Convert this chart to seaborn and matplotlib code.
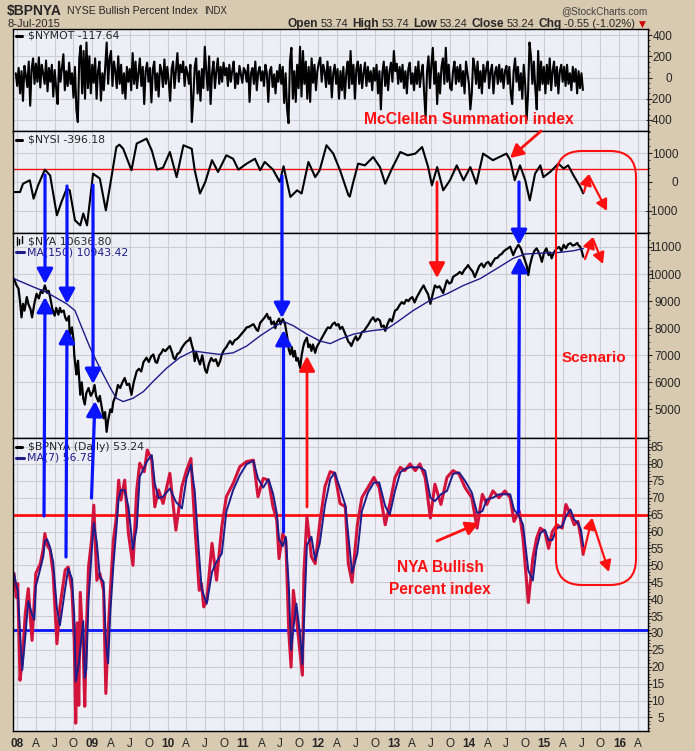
import numpy as np
import pandas as pd
import matplotlib
matplotlib.use("Agg")
import matplotlib.pyplot as plt
from matplotlib.patches import FancyBboxPatch, FancyArrowPatch, ArrowStyle
from matplotlib.lines import Line2D
from matplotlib.ticker import MultipleLocator
import seaborn as sns

sns.set_style("white")
plt.rcParams['font.family'] = ['Liberation Sans', 'DejaVu Sans']

# ---------------------------------------------------------------- data
# NYMOT (weekly readings, ending 8-Jul-2015)
NYMOT_VALUES = [
    40, -80, 90,
    -150, 60, -220, 110, 20, -90, 150, -266, 80, 180, -60, 130, -40,
    190, -94, 120, 40, -60, 160, -130, 90, -40, 120, -180, 70, -100,
    -250, 150, -40, 90, 219, -120, 60, -80, 140, -60, 40, -190, 100,
    -300, -420, 180, 300, -150, 250, -200, 330, -100, 200, -150, 120, -50,
    180, -200, 60, 150, -218, 40, -120, 100, 330, -60, 180, 250, -80,
    150, 60, -100, 200, -60, 120, -150, 40, -200, 100, -40, 80, -120,
    230, -60, 150, -100, 40, 180, -80, 100, -250, 60, 140, -40, 90,
    -235, 80, 150, -120, 40, -180, 120, 60, -90, 170, -60, 100, -40,
    -220, 80, 150, -100, 60, 230, -40, 120, 50, 150, -80, 100, 40,
    -60, 120, -420, -200, 100, 180, -150, 60, -220, 80, -100, 290, 60,
    -120, 200, -250, 40, 150, -100, 60, 180, -60, 100, -40, 140, 20,
    90, -80, 120, -40, 60, 150, -100, 40, -60, 110, 30, -50, 90,
    60, -40, 120, -230, 40, 90, -60, 150, -120, 50, 100, -30, 60,
    -80, 120, 40, -230, 60, 100, -90, 30, -150, 60, -40, 120, -60,
    100, -240, 40, -300, -430, 150, 280, -200, 60, -230, 120, -100, 290,
    -180, 250, -60, 150, -200, 100, -230, 180, -50, 120, -120, 60, 140,
    187, -40, 120, 60, -90, 150, -60, 100, -188, 40, 120, -60, 80,
    -200, 60, -120, 100, -197, 40, 150, -100, 250, -60, 120, -200, 80,
    150, -60, 120, -100, 40, 140, -80, 100, -40, 60, -120, 90, -30,
    120, -150, 60, -300, 40, 150, -80, 100, -120, 60, 140, -40, 250,
    60, 130, -60, 100, -40, 120, -100, 60, -150, 80, 140, -60, 40,
    -120, 100, -60, 150, -90, 40, 120, -150, -380, 60, 200, -100, 120,
    280, -60, 150, -250, 40, -150, 100, 180, -60, 280, -40, 120, -100,
    -120, 60, 150, -60, 100, -40, 120, -80, 60, -150, 150, 40, -60,
    -300, -150, 180, 100, -60, 150, -100, 60, -150, 120, -40, 80, 150,
    -100, 60, 120, -150, 40, 100, -60, 120, -40, 80, -100, 60, 110,
    -60, 100, -150, -250, 60, 180, -40, 100, -120, 40, -200, 120, -60,
    -400, -150, 330, 200, -60, 150, -100, -300, 250, -120, 150, -60, 100,
    -150, 120, -60, 180, -120, 60, 150, -80, 100, -150, 60, 120, -40,
    100, -80, 120, -60, 40, -120, 100, -40, 80, -150, 60, -100, 40,
    -117.64,
]

# NYSI (time as decimal year, value)
NYSI_T = [2007.96, 2008.04, 2008.08, 2008.17, 2008.22, 2008.28, 2008.37, 2008.44, 2008.53, 2008.59,
          2008.66, 2008.70, 2008.77, 2008.84, 2008.88, 2008.93, 2009.01, 2009.10, 2009.18, 2009.24,
          2009.32, 2009.36, 2009.41, 2009.52, 2009.59, 2009.72, 2009.79, 2009.86, 2009.94, 2010.03,
          2010.12, 2010.21, 2010.32, 2010.36, 2010.43, 2010.50, 2010.59, 2010.67, 2010.78, 2010.87,
          2010.94, 2011.05, 2011.16, 2011.23, 2011.29, 2011.40, 2011.49, 2011.54, 2011.63, 2011.72,
          2011.78, 2011.87, 2011.96, 2012.02, 2012.11, 2012.20, 2012.29, 2012.40, 2012.42, 2012.46,
          2012.53, 2012.62, 2012.73, 2012.82, 2012.89, 2012.98, 2013.09, 2013.19, 2013.29, 2013.38,
          2013.46, 2013.51, 2013.58, 2013.66, 2013.75, 2013.84, 2013.93, 2014.02, 2014.10, 2014.19,
          2014.32, 2014.50, 2014.55, 2014.61, 2014.68, 2014.75, 2014.81, 2014.88, 2014.95, 2014.99,
          2015.08, 2015.19, 2015.26, 2015.32, 2015.39, 2015.48, 2015.52]
NYSI_V = [-350, -350, -60, 60, -580, -115, 430, 230, -1160, -700,
          -230, -290, -1335, -1510, -1100, -1510, 290, 120, -990, -60,
          1220, 1300, 1160, 410, 1340, 1510, 1100, 430, 500, 1045,
          170, 1280, 1160, 410, -400, 0, 760, 350, 930, 810,
          430, 640, 810, 410, 700, 430, 0, 550, -520, -290,
          -400, 700, 170, 410, 1280, 990, 410, -450, -510, -60,
          640, 580, 870, 520, -60, 470, 1045, 930, 990, 1220,
          520, -115, 520, -290, 60, 580, 60, 520, -60, 990,
          760, 990, 760, 60, 580, 60, -640, 290, 580, 170,
          350, 640, 470, 580, 230, -170, -396.18]

# NYA close
NYA_T = [2007.96, 2007.99, 2008.02, 2008.04, 2008.06, 2008.08, 2008.10, 2008.13, 2008.15, 2008.18,
         2008.20, 2008.23, 2008.26, 2008.29, 2008.32, 2008.34, 2008.37, 2008.40, 2008.42, 2008.44,
         2008.47, 2008.50, 2008.52, 2008.55, 2008.57, 2008.59, 2008.62, 2008.64, 2008.66, 2008.69,
         2008.70, 2008.73, 2008.75, 2008.76, 2008.78, 2008.79, 2008.81, 2008.82, 2008.84, 2008.86,
         2008.88, 2008.90, 2008.92, 2008.95, 2008.98, 2009.01, 2009.03, 2009.05, 2009.08, 2009.10,
         2009.13, 2009.15, 2009.17, 2009.19, 2009.21, 2009.24, 2009.26, 2009.28, 2009.31, 2009.34,
         2009.37, 2009.40, 2009.43, 2009.46, 2009.49, 2009.52, 2009.55, 2009.57, 2009.59, 2009.62,
         2009.65, 2009.68, 2009.72, 2009.75, 2009.78, 2009.81, 2009.84, 2009.86, 2009.89, 2009.92,
         2009.94, 2009.97, 2010.00, 2010.03, 2010.06, 2010.08, 2010.10, 2010.13, 2010.16, 2010.19,
         2010.22, 2010.25, 2010.28, 2010.30, 2010.32, 2010.34, 2010.36, 2010.38, 2010.40, 2010.43,
         2010.46, 2010.48, 2010.50, 2010.52, 2010.55, 2010.58, 2010.61, 2010.64, 2010.67, 2010.70,
         2010.72, 2010.75, 2010.78, 2010.81, 2010.83, 2010.86, 2010.89, 2010.92, 2010.94, 2010.97,
         2011.00, 2011.03, 2011.05, 2011.08, 2011.11, 2011.14, 2011.16, 2011.18, 2011.20, 2011.23,
         2011.26, 2011.29, 2011.32, 2011.34, 2011.36, 2011.38, 2011.41, 2011.43, 2011.45, 2011.48,
         2011.50, 2011.53, 2011.56, 2011.59, 2011.61, 2011.63, 2011.65, 2011.67, 2011.69, 2011.71,
         2011.73, 2011.76, 2011.78, 2011.80, 2011.82, 2011.85, 2011.87, 2011.89, 2011.91, 2011.93,
         2011.96, 2011.98, 2012.01, 2012.03, 2012.05, 2012.08, 2012.11, 2012.13, 2012.16, 2012.19,
         2012.22, 2012.24, 2012.27, 2012.29, 2012.32, 2012.35, 2012.38, 2012.40, 2012.42, 2012.44,
         2012.47, 2012.50, 2012.52, 2012.55, 2012.58, 2012.61, 2012.64, 2012.67, 2012.70, 2012.73,
         2012.76, 2012.79, 2012.82, 2012.84, 2012.87, 2012.89, 2012.92, 2012.95, 2012.98, 2013.02,
         2013.05, 2013.08, 2013.11, 2013.14, 2013.17, 2013.20, 2013.22, 2013.25, 2013.28, 2013.31,
         2013.34, 2013.37, 2013.40, 2013.43, 2013.46, 2013.49, 2013.52, 2013.55, 2013.58, 2013.61,
         2013.64, 2013.66, 2013.69, 2013.71, 2013.74, 2013.77, 2013.79, 2013.82, 2013.85, 2013.88,
         2013.91, 2013.94, 2013.97, 2013.99, 2014.02, 2014.05, 2014.08, 2014.11, 2014.14, 2014.17,
         2014.20, 2014.23, 2014.26, 2014.29, 2014.32, 2014.35, 2014.38, 2014.41, 2014.44, 2014.46,
         2014.49, 2014.52, 2014.55, 2014.57, 2014.59, 2014.62, 2014.64, 2014.66, 2014.69, 2014.72,
         2014.74, 2014.77, 2014.79, 2014.81, 2014.84, 2014.87, 2014.90, 2014.92, 2014.95, 2014.97,
         2015.00, 2015.03, 2015.06, 2015.08, 2015.10, 2015.13, 2015.17, 2015.20, 2015.23, 2015.26,
         2015.29, 2015.32, 2015.35, 2015.38, 2015.41, 2015.44, 2015.46, 2015.48, 2015.50, 2015.52]
NYA_V = [9830, 9600, 9460, 9000, 8400, 8900, 8650, 9150, 8900, 8700,
         8400, 8900, 9270, 9100, 9400, 9300, 9580, 9300, 9380, 9150,
         8700, 8460, 8750, 8500, 8750, 8590, 8650, 8400, 8280, 8450,
         7700, 8030, 7600, 7030, 6500, 6290, 6800, 6400, 5540, 6000,
         5400, 5180, 5600, 5790, 5500, 5660, 5900, 5500, 5290, 5500,
         5000, 4670, 4900, 4170, 4600, 5000, 4900, 5290, 5500, 5900,
         5790, 6000, 6160, 5900, 5950, 5540, 6000, 6200, 6410, 6500,
         6400, 6750, 6910, 6750, 6950, 7030, 6750, 6720, 7000, 7100,
         7220, 7150, 7250, 7340, 7100, 6900, 6850, 7050, 7100, 7280,
         7400, 7500, 7550, 7650, 7400, 7200, 6780, 7100, 6900, 6660,
         7000, 6700, 6450, 6350, 6700, 6900, 6780, 6850, 6600, 6800,
         7030, 7200, 7300, 7450, 7530, 7400, 7550, 7600, 7650, 7750,
         7850, 7950, 8030, 8050, 8100, 8150, 8050, 7950, 7900, 8200,
         8300, 8400, 8530, 8350, 8400, 8150, 8250, 8000, 8210, 8350,
         8150, 8340, 8150, 7650, 7200, 7030, 7300, 6950, 7160, 6800,
         6900, 6530, 7000, 7300, 7500, 7650, 7300, 7400, 7160, 7400,
         7090, 7300, 7450, 7550, 7650, 7800, 7950, 8030, 8000, 8150,
         8210, 8100, 8150, 7970, 8050, 7850, 7650, 7500, 7450, 7340,
         7550, 7700, 7550, 7650, 7850, 7900, 8030, 8150, 8300, 8400,
         8250, 8350, 8280, 8050, 8100, 7900, 8150, 8340, 8250, 8650,
         8700, 8850, 8960, 8900, 9050, 9000, 9090, 9150, 8950, 9150,
         9300, 9450, 9580, 9400, 9250, 8900, 9250, 9580, 9500, 9550,
         9400, 9300, 9600, 9770, 9650, 9700, 9890, 9950, 10000, 10080,
         10000, 10150, 10250, 10330, 10200, 10100, 9890, 10100, 10300, 10390,
         10250, 10400, 10450, 10300, 10450, 10580, 10600, 10700, 10750, 10830,
         10900, 10950, 11010, 10850, 10700, 10900, 11000, 11080, 10950, 10700,
         10550, 10300, 9960, 10300, 10640, 10850, 10950, 10850, 10650, 10450,
         10800, 10950, 10700, 10800, 10580, 10800, 10950, 11000, 10850, 11080,
         10950, 11100, 11140, 11050, 11080, 11150, 11050, 11010, 10850, 10636.80]

# NYA 150-day moving average
NYA_MA_T = [2007.96, 2008.22, 2008.39, 2008.66, 2008.77, 2008.86, 2008.97, 2009.10, 2009.24, 2009.32,
            2009.41, 2009.54, 2009.68, 2009.81, 2009.99, 2010.16, 2010.34, 2010.52, 2010.70, 2010.87,
            2011.05, 2011.23, 2011.40, 2011.54, 2011.67, 2011.85, 2012.02, 2012.16, 2012.29, 2012.47,
            2012.69, 2012.91, 2013.04, 2013.26, 2013.48, 2013.71, 2013.93, 2014.15, 2014.37, 2014.59,
            2014.75, 2014.95, 2015.17, 2015.39, 2015.52]
NYA_MA_V = [9830, 9520, 9330, 8900, 8650, 8030, 7280, 6530, 5790, 5410,
            5290, 5410, 5660, 6040, 6530, 6910, 7160, 7090, 7030, 7090,
            7340, 7720, 8030, 8250, 8090, 7780, 7530, 7430, 7600, 7780,
            7900, 7970, 8210, 8650, 9020, 9270, 9580, 9830, 10200, 10580,
            10740, 10770, 10790, 10860, 10943.42]

# BPNYA
BP_T = [2007.96, 2007.99, 2008.01, 2008.04, 2008.07, 2008.11, 2008.15, 2008.20, 2008.23, 2008.25,
        2008.31, 2008.35, 2008.37, 2008.40, 2008.44, 2008.48, 2008.53, 2008.57, 2008.64, 2008.68,
        2008.73, 2008.76, 2008.78, 2008.80, 2008.82, 2008.84, 2008.88, 2008.90, 2008.92, 2008.95,
        2008.99, 2009.02, 2009.06, 2009.10, 2009.15, 2009.18, 2009.21, 2009.24, 2009.28, 2009.32,
        2009.35, 2009.38, 2009.43, 2009.48, 2009.54, 2009.59, 2009.63, 2009.69, 2009.73, 2009.79,
        2009.83, 2009.88, 2009.94, 2010.03, 2010.11, 2010.19, 2010.25, 2010.31, 2010.36, 2010.42,
        2010.45, 2010.48, 2010.52, 2010.59, 2010.65, 2010.72, 2010.78, 2010.87, 2010.96, 2011.05,
        2011.14, 2011.20, 2011.27, 2011.34, 2011.40, 2011.45, 2011.48, 2011.53, 2011.57, 2011.61,
        2011.64, 2011.67, 2011.71, 2011.76, 2011.79, 2011.81, 2011.85, 2011.91, 2011.96, 2012.02,
        2012.09, 2012.16, 2012.22, 2012.29, 2012.36, 2012.40, 2012.45, 2012.52, 2012.58, 2012.66,
        2012.74, 2012.81, 2012.89, 2012.95, 2013.02, 2013.09, 2013.15, 2013.22, 2013.29, 2013.35,
        2013.42, 2013.49, 2013.55, 2013.63, 2013.71, 2013.79, 2013.87, 2013.95, 2014.04, 2014.11,
        2014.18, 2014.24, 2014.32, 2014.40, 2014.48, 2014.55, 2014.60, 2014.67, 2014.72, 2014.79,
        2014.85, 2014.90, 2014.95, 2015.01, 2015.06, 2015.11, 2015.17, 2015.24, 2015.29, 2015.35,
        2015.40, 2015.45, 2015.49, 2015.52]
BP_V = [47.6, 40.6, 44.6, 16.0, 22.0, 35.7, 43.1, 27.8, 40.0, 47.6,
        50.5, 55.0, 59.4, 56.0, 54.5, 47.6, 26.8, 37.7, 48.6, 49.5,
        42.6, 28.0, 3.3, 33.0, 8.6, 42.0, 25.0, 8.3, 30.0, 49.5,
        57.4, 67.8, 45.6, 47.6, 42.6, 12.1, 30.0, 42.6, 57.4, 64.4,
        75.2, 69.3, 75.2, 59.4, 50.0, 72.3, 80.2, 77.7, 84.1, 81.1,
        67.3, 72.3, 68.3, 77.2, 60.4, 73.3, 78.0, 81.6, 62.4, 42.6,
        44.6, 37.7, 39.6, 56.5, 45.6, 61.4, 70.3, 74.2, 79.2, 80.7,
        81.1, 70.3, 75.7, 75.2, 67.3, 63.4, 52.0, 59.4, 57.4, 30.0,
        19.9, 42.6, 34.7, 24.0, 17.5, 47.6, 64.4, 52.5, 50.5, 62.4,
        73.3, 77.7, 77.2, 68.3, 67.3, 50.5, 45.0, 62.0, 70.0, 73.0,
        76.0, 73.0, 62.0, 68.0, 76.0, 79.0, 78.0, 80.0, 78.0, 80.0,
        76.0, 64.0, 74.0, 68.0, 76.0, 78.0, 77.0, 73.0, 70.0, 61.0,
        71.0, 68.0, 72.0, 70.0, 72.0, 70.0, 63.0, 66.0, 58.0, 39.0,
        52.0, 58.0, 61.0, 60.0, 55.0, 60.0, 62.0, 61.0, 68.0, 65.0,
        62.0, 63.0, 58.0, 53.24]

# reference levels
NYSI_LEVEL = 450
BP_UPPER = 65
BP_LOWER = 31

# axis ticks
NYMOT_TICKS = [-400, -200, 0, 200, 400]
NYSI_TICKS = [-1000, 0, 1000]
NYA_TICKS = [5000, 6000, 7000, 8000, 9000, 10000, 11000]
BP_TICKS = list(range(5, 90, 5))
MONTH_LETTERS = {1: None, 4: 'A', 7: 'J', 10: 'O'}

# ---------------------------------------------------------------- helpers
W, H = 695, 751
BG = '#d8cab0'
PANEL = '#eeeef7'
GRID = '#cdcdd3'
RED = '#ff1010'
BLUE = '#0a14ff'
NAVY = '#1c1c8a'


def yr2date(a):
    a = np.asarray(a, float)
    return pd.to_datetime('2008-01-01') + pd.to_timedelta((a - 2008.0) * 365.25, unit='D')


nymot = pd.DataFrame({'date': pd.date_range(end='2015-07-08', periods=len(NYMOT_VALUES), freq='7D'),
                      'v': NYMOT_VALUES})
nysi = pd.DataFrame({'date': yr2date(NYSI_T), 'v': NYSI_V})
nya = pd.DataFrame({'date': yr2date(NYA_T), 'v': NYA_V})
nya_ma = pd.DataFrame({'date': yr2date(NYA_MA_T), 'v': NYA_MA_V})
bp = pd.DataFrame({'date': yr2date(BP_T), 'v': BP_V})
bp['ma'] = bp['v'].rolling(2, min_periods=1).mean()

fig = plt.figure(figsize=(W / 100, H / 100), dpi=100, facecolor=BG)
T = fig.dpi_scale_trans


def P(x, y):
    return (x / 100.0, (H - y) / 100.0)


XL, XR = 13, 648
xlim = yr2date([2008 + (XL - 17) / 75.3, 2008 + (XR - 17) / 75.3])
qticks = pd.date_range('2008-01-01', '2016-04-01', freq='QS')
qlabels = []
for d in qticks:
    qlabels.append(f"{d.year % 100:02d}" if d.month == 1 else MONTH_LETTERS[d.month])


def panel(top, bottom, ylim, yticks, minor, pad):
    ax = fig.add_axes([XL / W, 1 - bottom / H, (XR - XL) / W, (bottom - top) / H])
    ax.set_facecolor(PANEL)
    ax.set_xlim(xlim)
    ax.set_ylim(ylim)
    ax.set_xticks(qticks)
    ax.set_yticks(yticks)
    ax.yaxis.set_minor_locator(MultipleLocator(minor))
    ax.yaxis.tick_right()
    ax.tick_params(axis='y', which='major', labelsize=8.5, length=3, width=0.8,
                   direction='out', pad=pad, right=True, left=False)
    ax.tick_params(axis='y', which='minor', length=1.5, width=0.6, right=True, left=False)
    for lab in ax.get_yticklabels():
        lab.set_horizontalalignment('right')
    ax.tick_params(axis='x', labelbottom=False, length=0)
    ax.grid(True, which='major', color=GRID, lw=0.8)
    ax.set_axisbelow(True)
    for s in ax.spines.values():
        s.set_color('black')
        s.set_linewidth(1.0)
    return ax


ax1 = panel(29, 131, (-504, 457), NYMOT_TICKS, 50, 14.5)
ax2 = panel(131, 233, (-1777, 1777), NYSI_TICKS, 250, 18.7)
ax3 = panel(233, 438, (3943, 11517), NYA_TICKS, 250, 20.8)
ax4 = panel(438, 731, (1.0, 87.66), BP_TICKS, 1, 8.6)

sns.lineplot(data=nymot, x='date', y='v', ax=ax1, color='black', lw=1.5, estimator=None, sort=False)
sns.lineplot(data=nysi, x='date', y='v', ax=ax2, color='black', lw=1.5, estimator=None, sort=False)
ax2.axhline(NYSI_LEVEL, color=RED, lw=1.0, zorder=1.5)
sns.lineplot(data=nya, x='date', y='v', ax=ax3, color='black', lw=1.6, estimator=None, sort=False)
sns.lineplot(data=nya_ma, x='date', y='v', ax=ax3, color=NAVY, lw=1.0, estimator=None, sort=False)
sns.lineplot(data=bp, x='date', y='v', ax=ax4, color='#d2143c', lw=2.2, estimator=None, sort=False)
sns.lineplot(data=bp, x='date', y='ma', ax=ax4, color=NAVY, lw=1.4, estimator=None, sort=False)
ax4.axhline(BP_UPPER, color=RED, lw=2.0, zorder=1.5)
ax4.axhline(BP_LOWER, color=BLUE, lw=2.0, zorder=1.5)

for ax in (ax1, ax2, ax3, ax4):
    ax.set_xlabel('')
    ax.set_ylabel('')

ax4.tick_params(axis='x', labelbottom=True, length=3, width=0.8, direction='out', pad=2, labelsize=8.5)
ax4.set_xticklabels(qlabels)
for lab, d in zip(ax4.get_xticklabels(), qticks):
    if d.month == 1:
        lab.set_fontweight('bold')

# ---------------------------------------------------------------- panel captions
LBL = dict(family='DejaVu Sans', fontsize=7.8, va='center', transform=T)


def marker(x0, x1, y, color, lw=2.2):
    fig.add_artist(Line2D([x0 / 100, x1 / 100], [(H - y) / 100] * 2, transform=T, color=color, lw=lw))


marker(16, 22, 36, 'black')
fig.text(*P(28, 36), '$NYMOT -117.64', **LBL)
marker(16, 22, 140, 'black')
fig.text(*P(28, 140), '$NYSI -396.18', **LBL)
# small bar icon for $NYA
for xi, (ya, yb) in zip([16.5, 19.0, 21.5], [(237, 245), (239, 244), (236, 243)]):
    fig.add_artist(Line2D([xi / 100] * 2, [(H - ya) / 100, (H - yb) / 100], transform=T, color='black', lw=1.0))
fig.text(*P(28, 241), '$NYA 10636.80', **LBL)
marker(16, 24, 252.5, NAVY)
fig.text(*P(27, 252.5), 'MA(150) 10943.42', color=NAVY, **LBL)
marker(16, 22, 446.5, 'black')
fig.text(*P(28, 446.5), '$BPNYA (Daily) 53.24', **LBL)
marker(16, 24, 458, NAVY)
fig.text(*P(27, 458), 'MA(7) 56.78', color=NAVY, **LBL)

# ---------------------------------------------------------------- header
fig.text(*P(7, 11), '$BPNYA', fontsize=10, fontweight='bold', va='center', transform=T)
fig.text(*P(67, 11.5), 'NYSE Bullish Percent Index', fontsize=7.6, va='center', transform=T)
fig.text(*P(204, 11.5), 'INDX', fontsize=6.9, va='center', transform=T)
fig.text(*P(648, 11), '@StockCharts.com', fontsize=7.2, color='#444444',
         ha='right', va='center', transform=T)
fig.text(*P(8, 24), '8-Jul-2015', fontsize=8, va='center', transform=T)

renderer = fig.canvas.get_renderer()
pieces = [('Open', True, 2.5), ('53.74', False, 4), ('High', True, 2.5), ('53.74', False, 4),
          ('Low', True, 2.5), ('53.24', False, 4), ('Close', True, 2.5), ('53.24', False, 4),
          ('Chg', True, 2.5), ('-0.55 (-1.02%)', False, 2)]
xcur = 637
fig.text(*P(646, 24), '\u25bc', family='DejaVu Sans', fontsize=6.5, color='#cc0000',
         ha='right', va='center', transform=T)
for txt, bold, gap in reversed(pieces):
    xcur -= gap
    t = fig.text(*P(xcur, 24), txt, fontsize=8.6 if bold else 8.0,
                 fontweight='bold' if bold else 'normal', ha='right', va='center', transform=T)
    xcur -= t.get_window_extent(renderer=renderer).width

# ---------------------------------------------------------------- annotations
def arrow(p0, p1, color, lw, head=True, ms=15):
    style = ArrowStyle('-|>', head_length=0.6, head_width=0.32) if head else ArrowStyle('-')
    a = FancyArrowPatch(P(*p0), P(*p1), transform=T, arrowstyle=style, mutation_scale=ms,
                        color=color, lw=lw, shrinkA=0, shrinkB=0, zorder=5)
    fig.add_artist(a)


BLW = 2.3
arrow((45, 175), (45, 284), BLUE, BLW)
arrow((44, 516), (45, 297), BLUE, BLW)
arrow((67, 186), (67, 304), BLUE, BLW)
arrow((66, 557), (67, 328), BLUE, BLW)
arrow((93, 185), (93, 384), BLUE, BLW)
arrow((91.5, 498), (95, 401), BLUE, BLW)
arrow((282, 176), (282, 318), BLUE, BLW)
arrow((283.5, 532), (283.5, 330), BLUE, BLW)
arrow((519, 182), (519, 245), BLUE, BLW)
arrow((518.5, 512), (519.5, 257), BLUE, BLW)

RLW = 2.0
arrow((307, 507), (307, 356), RED, RLW)
arrow((437, 182), (437, 278), RED, RLW)
arrow((541, 131), (510, 158), RED, RLW, ms=13)
arrow((437, 541), (479, 523), RED, RLW, ms=13)
# scenario zig-zags
arrow((584, 192), (589, 174), RED, 1.6, ms=11)
arrow((589, 176), (607, 211), RED, 1.6, ms=11)
arrow((585, 259), (593, 237), RED, 1.6, ms=11)
arrow((593, 239), (603, 264), RED, 1.6, ms=11)
arrow((584, 552), (592, 518), RED, 1.6, ms=11)
arrow((592, 520), (609, 572), RED, 1.6, ms=11)

box = FancyBboxPatch(P(556, 585), 0.80, 4.34, boxstyle='round,pad=0,rounding_size=0.26',
                     transform=T, fill=False, ec=RED, lw=1.5, zorder=5)
fig.add_artist(box)

TXT = dict(color=RED, fontweight='bold', ha='center', va='center', transform=T,
           family=['Liberation Sans', 'DejaVu Sans'])
fig.text(*P(469, 120), 'McClellan Summation index', fontsize=11.3, **TXT)
fig.text(*P(594, 358), 'Scenario', fontsize=11, **TXT)
fig.text(*P(440, 568), 'NYA Bullish', fontsize=11.2, **TXT)
fig.text(*P(440, 589), 'Percent index', fontsize=11.2, **TXT)

fig.savefig('out.png', dpi=100, facecolor=BG)
